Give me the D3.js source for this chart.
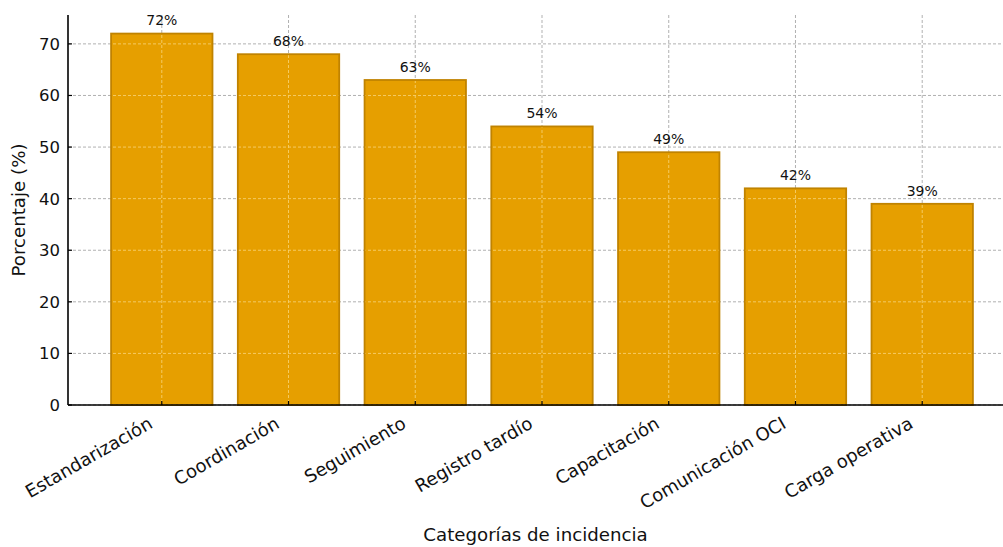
<!DOCTYPE html>
<html><head><meta charset="utf-8">
<script src="https://cdn.jsdelivr.net/npm/d3@7"></script>
<style>body{margin:0;background:#fff}svg{display:block}text{font-family:"DejaVu Sans",sans-serif}</style>
</head><body>
<svg id="c" width="1003" height="547"></svg>
<script>
const categories = ["Estandarización","Coordinación","Seguimiento","Registro tardío","Capacitación","Comunicación OCI","Carga operativa"];
const values = [72,68,63,54,49,42,39];
const yTicks = [0,10,20,30,40,50,60,70];
const xTitle = "Categorías de incidencia";
const yTitle = "Porcentaje (%)";

const svg = d3.select("#c");
const L = 68, R = 1016, T = 15, B = 405;
const n = categories.length;
const x = d3.scaleLinear().domain([-0.74, n - 1 + 0.74]).range([L, R]);
const y = d3.scaleLinear().domain([0, 75.6]).range([B, T]);
const bw = x(0.4) - x(-0.4);

const grid = svg.append("g");
function drawGrid(g, color) {
  g.selectAll(".gy").data(yTicks).join("line").attr("class","gy")
    .attr("x1", L).attr("x2", R).attr("y1", d => y(d)).attr("y2", d => y(d))
    .attr("stroke", color).attr("stroke-width", 0.9).attr("stroke-dasharray", "3,2");
  g.selectAll(".gx").data(categories).join("line").attr("class","gx")
    .attr("x1", (d,i) => x(i)).attr("x2", (d,i) => x(i)).attr("y1", T).attr("y2", B)
    .attr("stroke", color).attr("stroke-width", 0.9).attr("stroke-dasharray", "3,2");
}
drawGrid(grid, "#a8a8a8");

svg.append("g").selectAll("rect").data(values).join("rect")
  .attr("x", (d,i) => x(i) - bw/2).attr("y", d => y(d))
  .attr("width", bw).attr("height", d => B - y(d))
  .attr("fill", "#E69F00").attr("stroke", "#c08300").attr("stroke-width", 1.8);

const clip = svg.append("defs").append("clipPath").attr("id", "barclip");
clip.selectAll("rect").data(values).join("rect")
  .attr("x", (d,i) => x(i) - bw/2 + 1).attr("y", d => y(d) + 1)
  .attr("width", bw - 2).attr("height", d => B - y(d) - 1);
drawGrid(svg.append("g").attr("clip-path", "url(#barclip)"), "#f6cf6e");

svg.append("g").selectAll("text").data(values).join("text")
  .attr("x", (d,i) => x(i)).attr("y", d => y(d + 1) - 3)
  .attr("text-anchor", "middle").attr("font-size", 14).attr("fill", "#111")
  .text(d => d + "%");

svg.append("line").attr("x1", L).attr("x2", L).attr("y1", T).attr("y2", B).attr("stroke", "#000").attr("stroke-width", 1.6);
svg.append("line").attr("x1", L).attr("x2", R).attr("y1", B).attr("y2", B).attr("stroke", "#000").attr("stroke-width", 1.6);

const yt = svg.append("g");
yt.selectAll("line").data(yTicks).join("line")
  .attr("x1", L).attr("x2", L + 4).attr("y1", d => y(d)).attr("y2", d => y(d)).attr("stroke", "#000").attr("stroke-width", 1.2);
yt.selectAll("text").data(yTicks).join("text")
  .attr("x", L - 8).attr("y", d => y(d)).attr("dy", "0.36em")
  .attr("text-anchor", "end").attr("font-size", 16.5).attr("fill", "#111").text(d => d);

const xt = svg.append("g");
xt.selectAll("line").data(categories).join("line")
  .attr("x1", (d,i) => x(i)).attr("x2", (d,i) => x(i)).attr("y1", B).attr("y2", B - 4).attr("stroke", "#000").attr("stroke-width", 1.2);
xt.selectAll("text").data(categories).join("text")
  .attr("transform", (d,i) => `translate(${x(i) - 8},${B + 22}) rotate(-30)`)
  .attr("text-anchor", "end")
  .attr("font-size", 18).attr("fill", "#111").text(d => d);

svg.append("text").attr("x", (L + 1003) / 2).attr("y", 541)
  .attr("text-anchor", "middle").attr("font-size", 18.2).attr("fill", "#111").text(xTitle);
svg.append("text").attr("transform", `translate(25,${(T + B) / 2}) rotate(-90)`)
  .attr("text-anchor", "middle").attr("font-size", 18.2).attr("fill", "#111").text(yTitle);
</script>
</body></html>
